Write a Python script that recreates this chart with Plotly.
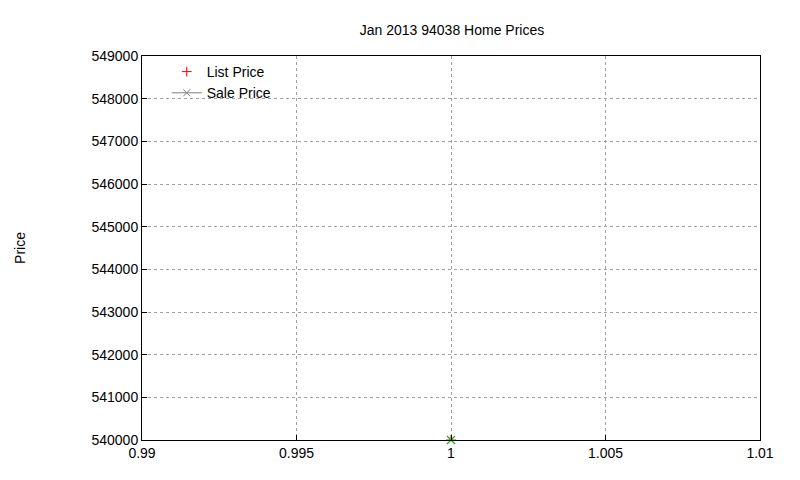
import plotly.graph_objects as go

x_vals = [1]
list_price = [540000]
sale_price = [540000]
x_ticks = [0.99, 0.995, 1, 1.005, 1.01]
x_tick_labels = ["0.99", "0.995", "1", "1.005", "1.01"]
y_ticks = list(range(540000, 549001, 1000))

FONT = "Liberation Sans"

fig = go.Figure()
fig.add_trace(go.Scatter(x=x_vals, y=list_price, mode="markers", name="List Price",
                         marker=dict(symbol="cross-thin", size=7, color="red", line=dict(color="red", width=1))))
fig.add_trace(go.Scatter(x=x_vals, y=sale_price, mode="lines+markers", name="Sale Price",
                         line=dict(color="#808080", width=1),
                         marker=dict(symbol="x-thin", size=7, color="#808080", line=dict(color="#808080", width=1))))
fig.add_trace(go.Scatter(x=x_vals, y=sale_price, mode="markers", showlegend=False,
                         marker=dict(symbol="x-thin", size=8, color="#00c000", line=dict(color="#00c000", width=1.2)),
                         cliponaxis=False))

axis_common = dict(showgrid=True, gridcolor="#a0a0a0", griddash="dot", gridwidth=1,
                   showline=True, linecolor="black", linewidth=1, mirror=True,
                   ticks="inside", ticklen=5, tickcolor="black", zeroline=False,
                   tickfont=dict(family=FONT, size=14, color="black"))
fig.update_layout(
    width=800, height=480, plot_bgcolor="white", paper_bgcolor="white",
    margin=dict(l=127, r=48, t=48, b=48),
    title=dict(text="Jan 2013 94038 Home Prices", x=0.555, xanchor="center", y=0.955, yanchor="middle",
               font=dict(family=FONT, size=14, color="black")),
    xaxis=dict(range=[0.99, 1.01], tickvals=x_ticks, ticktext=x_tick_labels, **axis_common),
    yaxis=dict(range=[540000, 549000], tickvals=y_ticks, ticktext=[str(v) for v in y_ticks],
               title=dict(text="Price", font=dict(family=FONT, size=14, color="black"), standoff=62),
               **axis_common),
    legend=dict(x=0.04, y=1.0, xanchor="left", yanchor="top", bgcolor="rgba(0,0,0,0)",
                font=dict(family=FONT, size=14, color="black")),
    showlegend=True,
)
fig.write_html("out.html")
